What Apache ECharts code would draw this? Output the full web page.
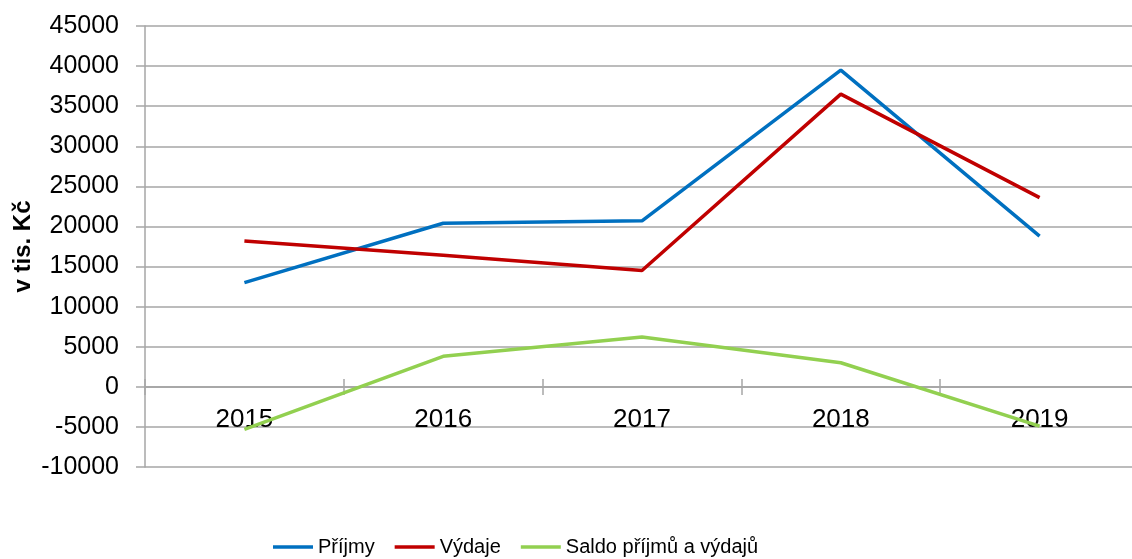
<!DOCTYPE html>
<html>
<head>
<meta charset="utf-8">
<script src="https://cdn.jsdelivr.net/npm/echarts@6/dist/echarts.min.js"></script>
<style>
  html, body { margin: 0; padding: 0; background: #fff; }
  #chart { width: 1132px; height: 559px; }
</style>
</head>
<body>
<div id="chart"></div>
<script>
// roky a hodnoty (v tis. Kč)
const years = ["2015", "2016", "2017", "2018", "2019"];
const prijmy = [13000, 20400, 20700, 39500, 18800];
const vydaje = [18200, 16400, 14500, 36500, 23600];
const saldo = [-5300, 3800, 6200, 3000, -4900];
const seriesNames = ["Příjmy", "Výdaje", "Saldo příjmů a výdajů"];
const colors = ["#0070C0", "#C00000", "#92D050"];

const font = "Liberation Sans, Arial, sans-serif";
const gridColor = "#a6a6a6";

const chart = echarts.init(document.getElementById("chart"));

const lineSeries = (name, data, color) => ({
  name: name,
  type: "line",
  data: data,
  symbol: "none",
  color: color,
  lineStyle: { width: 3.5, color: color },
  emphasis: { disabled: true },
});

// osa x lezi na nule: grid 26..467 px, nula na 387 px
const catAxis = (pos, offset, labels) => ({
  type: "category",
  data: years,
  position: pos,
  offset: offset,
  boundaryGap: true,
  axisLine: { onZero: false, lineStyle: { color: gridColor, width: 1.5 } },
  axisTick: { show: true, length: 8, lineStyle: { color: gridColor, width: 1.5 } },
  axisLabel: { show: labels, fontSize: 26, color: "#000", margin: 20, fontFamily: font },
  splitLine: { show: false },
});

chart.setOption({
  animation: false,
  textStyle: { fontFamily: font },
  grid: { left: 145, top: 26, bottom: 92, right: -7, outerBoundsMode: "none" },
  legend: {
    left: 273,
    bottom: 2,
    padding: 0,
    icon: "rect",
    itemWidth: 40,
    itemHeight: 3.5,
    itemGap: 20,
    textStyle: { fontSize: 20, color: "#000", fontFamily: font },
    data: seriesNames,
  },
  xAxis: [catAxis("bottom", -80, true), catAxis("top", -361, false)],
  yAxis: {
    type: "value",
    min: -10000,
    max: 45000,
    interval: 5000,
    name: "v tis. Kč",
    nameLocation: "middle",
    nameGap: 110,
    nameMoveOverlap: false,
    nameTextStyle: { fontSize: 24, fontWeight: "bold", color: "#000", fontFamily: font },
    axisLine: { show: true, lineStyle: { color: gridColor, width: 1.5 } },
    axisTick: { show: true, length: 9, lineStyle: { color: gridColor, width: 1.5 } },
    axisLabel: {
      fontSize: 25,
      color: "#000",
      margin: 26,
      fontFamily: font,
      formatter: (v) => String(v),
    },
    splitLine: { show: true, lineStyle: { color: gridColor, width: 1.5 } },
  },
  series: [
    lineSeries(seriesNames[0], prijmy, colors[0]),
    lineSeries(seriesNames[1], vydaje, colors[1]),
    lineSeries(seriesNames[2], saldo, colors[2]),
  ],
});
</script>
</body>
</html>
